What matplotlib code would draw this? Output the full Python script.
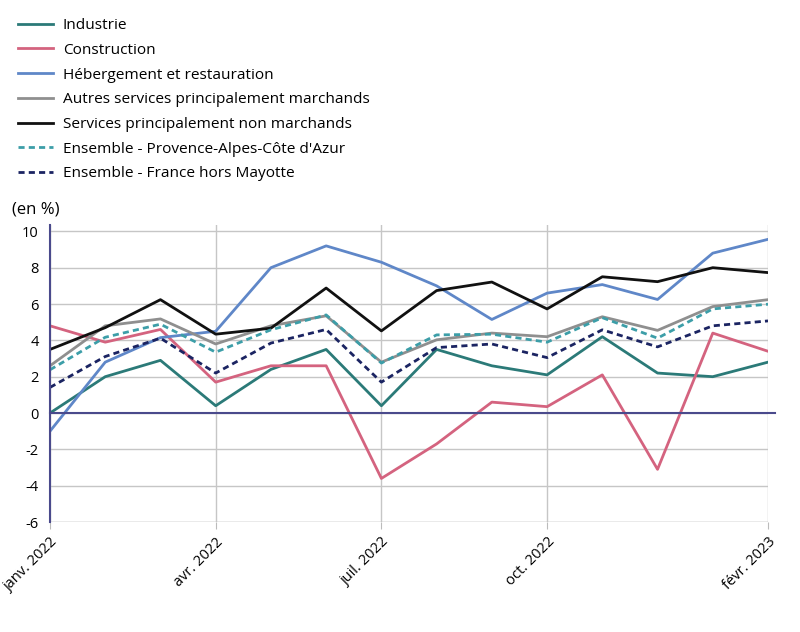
import matplotlib
matplotlib.use("Agg")
import matplotlib.pyplot as plt

plt.rcParams['font.family'] = ['Open Sans', 'DejaVu Sans']
plt.rcParams['axes.unicode_minus'] = False

# monthly points, janv. 2022 -> févr. 2023
months = list(range(14))
tick_pos = [0, 3, 6, 9, 13]
tick_labels = ["janv. 2022", "avr. 2022", "juil. 2022", "oct. 2022", "févr. 2023"]

industrie = [0.0, 2.0, 2.9, 0.4, 2.4, 3.5, 0.4, 3.5, 2.6, 2.1, 4.2, 2.2, 2.0, 2.8]
construction = [4.8, 3.9, 4.6, 1.7, 2.6, 2.6, -3.6, -1.7, 0.6, 0.35, 2.1, -3.1, 4.4, 3.4]
hebergement = [-1.0, 2.8, 4.15, 4.5, 8.0, 9.2, 8.3, 7.0, 5.15, 6.6, 7.07, 6.25, 8.8, 9.56]
autres_march = [2.6, 4.8, 5.18, 3.8, 4.8, 5.35, 2.8, 4.03, 4.4, 4.2, 5.3, 4.55, 5.86, 6.24]
non_march = [3.5, 4.7, 6.24, 4.34, 4.67, 6.88, 4.52, 6.74, 7.21, 5.73, 7.5, 7.23, 8.0, 7.73]
ens_paca = [2.38, 4.17, 4.89, 3.35, 4.58, 5.4, 2.75, 4.3, 4.34, 3.9, 5.25, 4.12, 5.73, 5.99]
ens_france = [1.41, 3.11, 4.12, 2.2, 3.85, 4.6, 1.7, 3.6, 3.8, 3.05, 4.58, 3.64, 4.8, 5.07]

fig = plt.figure(figsize=(8, 6.32), dpi=100)
ax = fig.add_axes([0.0625, 0.174, 0.8975, 0.470])

ax.plot(months, industrie, color="#2b7a78", lw=2, label="Industrie")
ax.plot(months, construction, color="#d4637f", lw=2, label="Construction")
ax.plot(months, hebergement, color="#5f87c8", lw=2, label="Hébergement et restauration")
ax.plot(months, autres_march, color="#8f8f8f", lw=2, label="Autres services principalement marchands")
ax.plot(months, non_march, color="#111111", lw=2, label="Services principalement non marchands")
ax.plot(months, ens_paca, color="#3c9ea8", lw=2, ls=(0, (2.2, 1.5)), label="Ensemble - Provence-Alpes-Côte d'Azur")
ax.plot(months, ens_france, color="#1b2462", lw=2, ls=(0, (2.2, 1.5)), label="Ensemble - France hors Mayotte")

# zero line
ax.axhline(0, xmin=0, xmax=1.01, color="#4a4a8c", lw=1.5, clip_on=False, zorder=3)

ax.set_xlim(0, 13)
ax.set_ylim(-6, 10.35)
ax.set_yticks(range(-6, 11, 2))
ax.set_xticks(tick_pos)
ax.set_xticklabels(tick_labels, rotation=45, ha="right", rotation_mode="anchor", fontsize=10.5)
ax.tick_params(axis="y", length=0, labelsize=10.5, pad=8)
ax.tick_params(axis="x", length=5, color="#bbbbbb", pad=4)
ax.grid(True, color="#c6c6c6", lw=1)
ax.set_axisbelow(True)

for s in ["top", "right", "bottom"]:
    ax.spines[s].set_visible(False)
ax.spines["left"].set_color("#4a4a8c")
ax.spines["left"].set_linewidth(1.5)
ax.axhline(-6, color="#c6c6c6", lw=1, zorder=0)

fig.text(12 / 800, 1 - 210 / 632, "(en %)", fontsize=12, va="center", ha="left")

fig.legend(loc="upper left", bbox_to_anchor=(12 / 800, 1 - 12 / 632), frameon=False,
           fontsize=11.1, handlelength=2.25, handletextpad=0.65, labelspacing=0.63,
           borderaxespad=0)

fig.savefig("out.png", dpi=100)
